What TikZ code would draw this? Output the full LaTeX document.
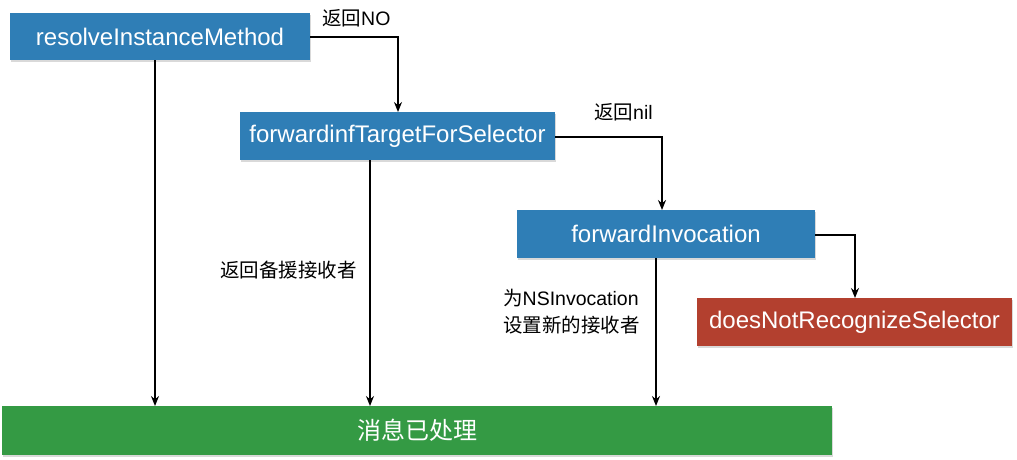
\documentclass[tikz,border=0pt]{standalone}
\usepackage{fontspec}
\setmainfont{Liberation Sans}
\newfontfamily\cjk{Noto Sans CJK SC}
\usetikzlibrary{arrows.meta,shadows}
\definecolor{bluebox}{HTML}{2F7EB6}
\definecolor{redbox}{HTML}{B3402F}
\definecolor{greenbox}{HTML}{349A44}
\begin{document}
\begin{tikzpicture}[x=1pt,y=-1pt,
  box/.style={draw=none,inner sep=0pt,text=white,font=\fontsize{24}{28}\selectfont},
  boxfill/.style={fill=#1,drop shadow={shadow xshift=1pt,shadow yshift=-2pt,opacity=0.3}},
  conn/.style={line width=1.6pt,-{Stealth[length=10pt,width=8pt]}},
  lbl/.style={font=\fontsize{19.5}{23}\selectfont,inner sep=0pt,anchor=west}]
\useasboundingbox (0,0) rectangle (1017,459);
\path[boxfill=bluebox] (10,13) rectangle (310,60);
\node[box] (r) at (160,36.5) {resolveInstanceMethod};
\path[boxfill=bluebox] (240,112) rectangle (555,160);
\node[box] (f) at (397.5,136) {forwardinfTargetForSelector};
\path[boxfill=bluebox] (517,210) rectangle (815,258);
\node[box] (i) at (666,234) {forwardInvocation};
\path[boxfill=redbox] (697,298) rectangle (1012,346);
\node[box] (d) at (854.5,322) {doesNotRecognizeSelector};
\path[boxfill=greenbox] (2,406) rectangle (832,455);
\node[box] (g) at (417,430.5) {\cjk 消息已处理};
% coordinates on box edges
\coordinate (rR) at (310,37);
\coordinate (rB) at (155,60);
\coordinate (fT) at (398,112);
\coordinate (fR) at (555,137);
\coordinate (fB) at (370,160);
\coordinate (iT) at (662,210);
\coordinate (iR) at (815,235);
\coordinate (iB) at (656,258);
\coordinate (dT) at (855,298);
\coordinate (gA) at (155,406);
\coordinate (gB) at (370,406);
\coordinate (gC) at (656,406);
\draw[conn] (rR) -| (fT);
\draw[conn] (rB) -- (gA);
\draw[conn] (fR) -| (iT);
\draw[conn] (fB) -- (gB);
\draw[conn] (iR) -| (dT);
\draw[conn] (iB) -- (gC);
\node[lbl] (l1) at (322,18) {{\cjk 返回}NO};
\node[lbl] (l2) at (594,112) {{\cjk 返回}nil};
\node[lbl] (l3) at (220,270) {\cjk 返回备援接收者};
\node[lbl] (l4) at (503,298) {{\cjk 为}NSInvocation};
\node[lbl] (l5) at (503,325) {\cjk 设置新的接收者};
\end{tikzpicture}
\end{document}
